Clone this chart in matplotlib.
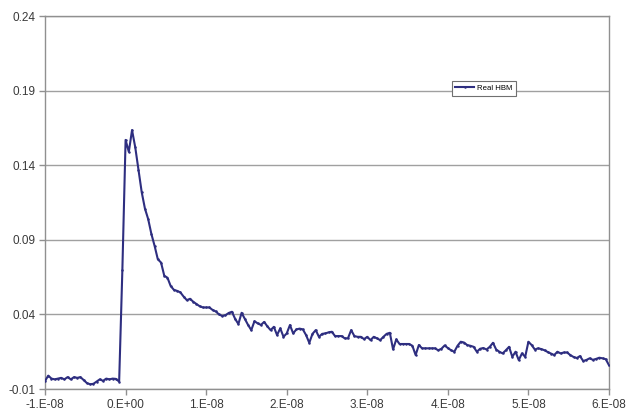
import numpy as np
import matplotlib
matplotlib.use("Agg")
import matplotlib.pyplot as plt

plt.rcParams['font.family'] = ['Liberation Sans', 'DejaVu Sans']

# sampling grid of the scope trace (ns)
t_start_ns = -10.0
t_step_ns = 0.4

# trace values
pre_pulse = [-0.0046, -0.001, -0.003, -0.0035, -0.003, -0.0025, -0.0035, -0.002, -0.0035, -0.002,
             -0.0025, -0.002, -0.004, -0.006, -0.0068, -0.0065, -0.005, -0.0035, -0.0045, -0.003,
             -0.0035, -0.003, -0.0032, -0.005, 0.07]
peak = [0.157, 0.149, 0.1636, 0.152, 0.137, 0.122, 0.111, 0.104, 0.094, 0.086,
        0.077, 0.0748, 0.066, 0.0646, 0.059, 0.0565, 0.0558, 0.0548, 0.052, 0.0496,
        0.0505, 0.0485, 0.047, 0.0455]
decay = [0.0447, 0.0447, 0.0447, 0.043, 0.042, 0.040, 0.039, 0.0395, 0.041, 0.0418,
         0.037, 0.0336, 0.0411, 0.037, 0.033, 0.0295, 0.0355, 0.034, 0.033, 0.035,
         0.032, 0.0295, 0.0317, 0.0262, 0.0307, 0.025, 0.0273, 0.0329, 0.0273, 0.030,
         0.0305, 0.030, 0.0262, 0.021, 0.027, 0.0295, 0.025, 0.027, 0.0273, 0.028, 0.0284]
tail1 = [0.0255, 0.0255, 0.0255, 0.024, 0.024, 0.0295, 0.0255, 0.025, 0.025, 0.0235,
         0.025, 0.0228, 0.025, 0.024, 0.0228, 0.025, 0.027, 0.0277, 0.0166, 0.0233,
         0.0202, 0.0202, 0.0202, 0.0202, 0.019, 0.0128, 0.0195, 0.0173, 0.0173, 0.0173,
         0.0173, 0.0173, 0.016, 0.017, 0.0192, 0.0175, 0.016, 0.015, 0.019, 0.0217,
         0.0212, 0.0195]
tail2 = [0.019, 0.0183, 0.015, 0.017, 0.0175, 0.0165, 0.0183, 0.021, 0.0165, 0.015,
         0.0139, 0.016, 0.0183, 0.0116, 0.015, 0.0094, 0.0139, 0.0116, 0.0217, 0.0195,
         0.0165, 0.0173, 0.0168, 0.016, 0.0148, 0.0138, 0.0128, 0.015, 0.0139, 0.0145,
         0.0145, 0.0128, 0.0115, 0.0108, 0.0121, 0.0088, 0.0095, 0.0106, 0.0096, 0.0102,
         0.011, 0.0106, 0.01, 0.006]

y_ticks = [-0.01, 0.04, 0.09, 0.14, 0.19, 0.24]
x_ticks = [-1e-8, 0.0, 1e-8, 2e-8, 3e-8, 4e-8, 5e-8, 6e-8]
x_labels = ['-1.E-08', '0.E+00', '1.E-08', '2.E-08', '3.E-08', '4.E-08', '5.E-08', '6.E-08']

values = np.array(pre_pulse + peak + decay + tail1 + tail2)
t = (t_start_ns + t_step_ns * np.arange(len(values))) * 1e-9

fig = plt.figure(figsize=(6.28, 4.13), dpi=100)
ax = fig.add_axes([0.0717, 0.058, 0.898, 0.903])

grid_col = '#a0a0a0'
for yv in y_ticks:
    ax.axhline(yv, color=grid_col, lw=1.0, zorder=1)

ax.plot(t, values, color='#2e2e80', lw=1.5, marker='o', markersize=1.8,
        markeredgewidth=0, label='Real HBM', zorder=3)

ax.set_xlim(-1e-8, 6e-8)
ax.set_ylim(-0.01, 0.24)
ax.set_yticks(y_ticks)
ax.set_yticklabels(['%.2f' % v for v in y_ticks])
ax.set_xticks(x_ticks)
ax.set_xticklabels(x_labels)

for s in ax.spines.values():
    s.set_color('#909090')
    s.set_linewidth(1.0)

ax.tick_params(axis='both', colors='#909090', labelcolor='#3a3a3a', labelsize=8.5,
               length=4, width=1, direction='out')
ax.tick_params(axis='x', pad=3)
ax.tick_params(axis='y', pad=3)

leg = ax.legend(loc='center', bbox_to_anchor=(0.778, 0.806), fontsize=5.6,
                frameon=True, fancybox=False, handlelength=2.4, borderpad=0.45,
                handletextpad=0.4, borderaxespad=0)
leg.get_frame().set_edgecolor('#707070')
leg.get_frame().set_linewidth(0.8)
leg.get_frame().set_facecolor('white')
leg.get_frame().set_alpha(1.0)

fig.savefig('out.png', dpi=100, facecolor='white')
